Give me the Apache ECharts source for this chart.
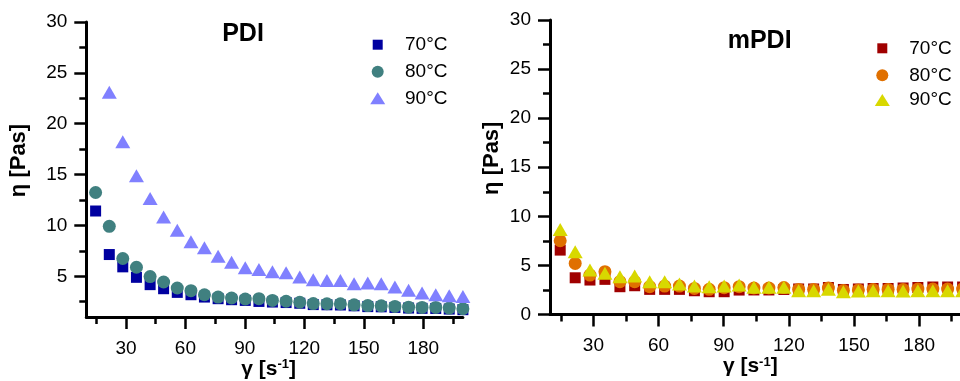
<!DOCTYPE html>
<html>
<head>
<meta charset="utf-8">
<script src="https://cdn.jsdelivr.net/npm/echarts@6/dist/echarts.min.js"></script>
<style>html,body{margin:0;padding:0;background:#fff}#c{width:960px;height:381px}</style>
</head>
<body>
<div id="c"></div>
<script>
// shear rate (s^-1)
const shearRate = [7.9, 14.7, 21.6, 28.4, 35.3, 42.2, 49.0, 55.9, 62.8, 69.6, 76.5, 83.3, 90.2, 97.1, 103.9,
  110.8, 117.7, 124.5, 131.4, 138.2, 145.1, 152.0, 158.8, 165.7, 172.6, 179.4, 186.3, 193.1, 200.0];
// PDI viscosity (Pas)
const pdi70 = [20.0, 11.42, 7.14, 5.93, 4.9, 4.18, 3.78, 3.42, 3.19, 2.96, 2.8, 2.7, 2.63, 2.53, 2.47,
  2.42, 2.35, 2.22, 2.2, 2.18, 2.1, 2.02, 2.0, 1.94, 1.88, 1.85, 1.84, 1.78, 1.72];
const pdi80 = [25.5, 13.24, 9.91, 6.75, 5.89, 4.97, 4.44, 3.85, 3.59, 3.19, 2.96, 2.87, 2.77, 2.8, 2.63,
  2.55, 2.45, 2.32, 2.3, 2.3, 2.2, 2.12, 2.1, 2.04, 1.97, 1.94, 1.94, 1.88, 1.81];
const pdi90 = [null, null, 23.1, 18.24, 14.88, 12.65, 10.83, 9.52, 8.4, 7.8, 6.98, 6.38, 5.83, 5.66, 5.46,
  5.34, 4.94, 4.67, 4.58, 4.6, 4.28, 4.35, 4.28, 3.95, 3.62, 3.36, 3.19, 3.09, 3.02];
// mPDI viscosity (Pas)
const mpdi70 = [10.9, 6.56, 3.74, 3.51, 3.58, 2.83, 2.93, 2.56, 2.56, 2.56, 2.42, 2.32, 2.32, 2.49, 2.5,
  2.5, 2.55, 2.6, 2.6, 2.75, 2.55, 2.6, 2.65, 2.65, 2.7, 2.75, 2.8, 2.8, 2.8];
const mpdi80 = [13.9, 7.51, 5.2, 4.02, 4.36, 3.34, 3.34, 2.83, 2.9, 2.9, 2.66, 2.56, 2.73, 2.83, 2.7,
  2.7, 2.75, 2.55, 2.55, 2.7, 2.45, 2.5, 2.55, 2.55, 2.55, 2.6, 2.6, 2.6, 2.6];
const mpdi90 = [14.4, 8.67, 6.39, 4.53, 4.19, 3.85, 3.92, 3.34, 3.34, 3.1, 2.9, 2.83, 2.9, 3.0, 2.77,
  2.77, 2.77, 2.42, 2.42, 2.56, 2.32, 2.39, 2.42, 2.42, 2.39, 2.42, 2.42, 2.42, 2.42];

const seriesNames = ['70°C', '80°C', '90°C'];
const panelTitles = ['PDI', 'mPDI'];
const xLabelValues = [30, 60, 90, 120, 150, 180];
const xMinorValues = [15, 45, 75, 105, 135, 165, 195];
const yLeftLabels = [5, 10, 15, 20, 25, 30];
const yLeftMinor = [2.5, 7.5, 12.5, 17.5, 22.5, 27.5];
const yRightLabels = [0, 5, 10, 15, 20, 25, 30];
const yRightMinor = [2.5, 7.5, 12.5, 17.5, 22.5, 27.5];

const FONT = 'Liberation Sans, Arial, sans-serif';
const pair = (ys) => shearRate.map((x, i) => ys[i] == null ? null : [x, ys[i]]).filter(p => p);

function axes(dim, grid, min, max, labels, minor, nameCfg) {
  const base = { type: 'value', gridIndex: grid, min: min, max: max, splitLine: { show: false } };
  base.position = dim === 'x' ? 'bottom' : 'left';
  const major = Object.assign({}, base, {
    axisLine: { show: true, onZero: false, lineStyle: { color: '#000', width: 3 } },
    axisTick: { show: true, customValues: labels, length: 12, lineStyle: { color: '#000', width: 2.5 } },
    axisLabel: { show: true, customValues: labels, margin: dim === 'x' ? 22 : 19, color: '#000', fontSize: 19, fontFamily: FONT }
  }, nameCfg);
  const mnr = Object.assign({}, base, {
    axisLine: { show: false, onZero: false },
    axisTick: { show: true, customValues: minor, length: 7, lineStyle: { color: '#000', width: 2.5 } },
    axisLabel: { show: false }
  });
  return [major, mnr];
}

const xName = {
  name: '{a|γ [s}{b|-1}{a|]}', nameLocation: 'middle', nameGap: 41, nameMoveOverlap: false,
  nameTextStyle: { padding: [0, 12, 0, 0], rich: {
    a: { fontSize: 21, fontWeight: 'bold', fontFamily: FONT, color: '#000' },
    b: { fontSize: 13, fontWeight: 'bold', fontFamily: FONT, color: '#000', verticalAlign: 'top', padding: [0, 0, 9, 0] }
  } }
};
const yNameL = { name: 'η [Pas]', nameLocation: 'middle', nameGap: 56, nameMoveOverlap: false,
  nameTextStyle: { fontSize: 22, fontWeight: 'bold', fontFamily: FONT, color: '#000', padding: [0, 0, 0, 18] } };
const yNameR = Object.assign({}, yNameL, { nameGap: 47 });

const xAxes = [...axes('x', 0, 10, 200, xLabelValues, xMinorValues, xName),
               ...axes('x', 1, 10, 200, xLabelValues, xMinorValues, xName)];
const yAxes = [...axes('y', 0, 1, 30, yLeftLabels, yLeftMinor, yNameL),
               ...axes('y', 1, 0, 30, yRightLabels, yRightMinor, yNameR)];

const leftColors = ['#0000a0', '#408080', '#8080ff'];
const rightColors = ['#a00000', '#e07000', '#d8d800'];
const symbols = ['rect', 'circle', 'triangle'];
const sizes = [[11, 11], 13, [15, 13]];

function mk(name, data, grid, idx, colors) {
  return {
    type: 'scatter', name: name, data: pair(data), xAxisIndex: grid * 2, yAxisIndex: grid * 2,
    symbol: symbols[idx], symbolSize: sizes[idx], clip: true,
    itemStyle: { color: colors[idx], opacity: 1 }, emphasis: { disabled: true }, z: 2 + idx
  };
}

const series = [
  mk(seriesNames[0], pdi70, 0, 0, leftColors),
  mk(seriesNames[1], pdi80, 0, 1, leftColors),
  mk(seriesNames[2], pdi90, 0, 2, leftColors),
  mk(seriesNames[0], mpdi70, 1, 0, rightColors),
  mk(seriesNames[1], mpdi80, 1, 1, rightColors),
  mk(seriesNames[2], mpdi90, 1, 2, rightColors)
];

const iconSizes = [[10, 10], [12, 12], [15, 12]];
function legendItem(i, colors, cx, cy, textX) {
  const [w, h] = iconSizes[i];
  return {
    orient: 'vertical', left: cx - w / 2, top: cy - 9.5, padding: 0,
    itemWidth: w, itemHeight: h, selectedMode: false,
    data: [{ name: seriesNames[i], icon: symbols[i], itemStyle: { color: colors[i] } }],
    textStyle: { fontSize: 19, fontFamily: FONT, color: '#000', padding: [0, 0, 0, textX - (cx - w / 2 + w + 5)] }
  };
}
const legends = [
  legendItem(0, leftColors, 377.7, 44.7, 405), legendItem(1, leftColors, 377.7, 71.7, 405), legendItem(2, leftColors, 377.7, 98.3, 405),
  legendItem(0, rightColors, 882.3, 48.3, 909.3), legendItem(1, rightColors, 882.3, 75.3, 909.3), legendItem(2, rightColors, 882.3, 100, 909.3)
];

const chart = echarts.init(document.getElementById('c'), null, { renderer: 'canvas' });
chart.setOption({
  animation: false,
  backgroundColor: '#fff',
  title: [
    { text: panelTitles[0], left: 222.2, top: 21.5, padding: 0, textStyle: { fontSize: 25, fontWeight: 'bold', fontFamily: FONT, color: '#000' } },
    { text: panelTitles[1], left: 727.7, top: 28.5, padding: 0, textStyle: { fontSize: 25, fontWeight: 'bold', fontFamily: FONT, color: '#000' } }
  ],
  legend: legends,
  grid: [
    { left: 86.3, top: 22, width: 376.6, height: 295, outerBoundsMode: 'none', containLabel: false },
    { left: 550, top: 20, width: 412.6, height: 294.5, outerBoundsMode: 'none', containLabel: false }
  ],
  xAxis: xAxes,
  yAxis: yAxes,
  series: series
});
</script>
</body>
</html>
